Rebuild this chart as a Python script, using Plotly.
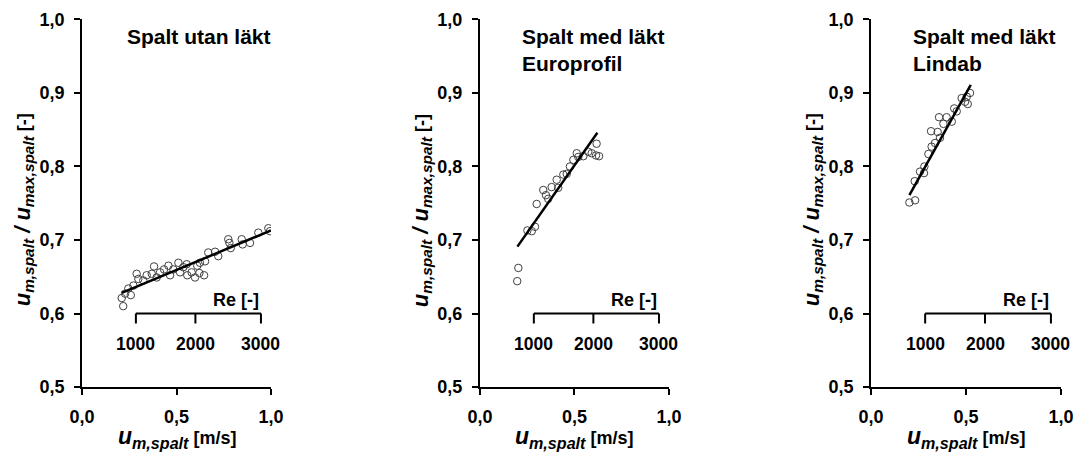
import plotly.graph_objects as go

# Spalt utan läkt
u_utan = [0.218, 0.210, 0.228, 0.245, 0.258, 0.272, 0.289, 0.298, 0.324, 0.342,
          0.369, 0.381, 0.395, 0.413, 0.434, 0.457, 0.466, 0.483, 0.510, 0.519,
          0.536, 0.554, 0.557, 0.580, 0.598, 0.610, 0.624, 0.621, 0.646, 0.651,
          0.668, 0.704, 0.721, 0.774, 0.780, 0.787, 0.845, 0.850, 0.889, 0.933,
          0.986, 0.995]
r_utan = [0.610, 0.621, 0.627, 0.634, 0.625, 0.638, 0.654, 0.647, 0.645, 0.652,
          0.654, 0.664, 0.649, 0.656, 0.660, 0.665, 0.652, 0.660, 0.669, 0.656,
          0.663, 0.667, 0.652, 0.656, 0.649, 0.665, 0.669, 0.655, 0.652, 0.671,
          0.683, 0.684, 0.678, 0.701, 0.696, 0.689, 0.701, 0.694, 0.696, 0.710,
          0.716, 0.712]
fit_utan_u = [0.21, 1.0]
fit_utan_r = [0.628, 0.713]

# Spalt med läkt, Europrofil
u_euro = [0.203, 0.197, 0.251, 0.274, 0.291, 0.300, 0.335, 0.349, 0.361, 0.379,
          0.406, 0.414, 0.441, 0.459, 0.476, 0.494, 0.512, 0.520, 0.547, 0.573,
          0.591, 0.617, 0.614, 0.630]
r_euro = [0.662, 0.644, 0.713, 0.712, 0.718, 0.749, 0.768, 0.761, 0.756, 0.772,
          0.782, 0.771, 0.789, 0.790, 0.800, 0.809, 0.818, 0.813, 0.814, 0.820,
          0.818, 0.831, 0.815, 0.814]
fit_euro_u = [0.198, 0.621]
fit_euro_r = [0.691, 0.846]

# Spalt med läkt, Lindab
u_lindab = [0.202, 0.232, 0.230, 0.258, 0.279, 0.281, 0.302, 0.319, 0.337, 0.316,
            0.351, 0.363, 0.358, 0.381, 0.398, 0.425, 0.438, 0.451, 0.477, 0.495,
            0.509, 0.521, 0.504]
r_lindab = [0.751, 0.754, 0.780, 0.793, 0.791, 0.800, 0.817, 0.827, 0.832, 0.848,
            0.847, 0.839, 0.867, 0.858, 0.867, 0.861, 0.879, 0.875, 0.893, 0.888,
            0.885, 0.900, 0.895]
fit_lindab_u = [0.202, 0.525]
fit_lindab_r = [0.761, 0.911]

titles = ["Spalt utan läkt", "Spalt med läkt<br>Europrofil", "Spalt med läkt<br>Lindab"]
title_x = [0.228, 0.21, 0.21]

x_ticks = [0.0, 0.5, 1.0]
y_ticks = [0.5, 0.6, 0.7, 0.8, 0.9, 1.0]

# Reynolds number scale drawn inside each panel
re_ticks = [1000, 2000, 3000]
re_tick_u = [0.285, 0.600, 0.947]
re_level = 0.6

FONT = "Liberation Sans, Arial, sans-serif"

panels = [
    (u_utan, r_utan, fit_utan_u, fit_utan_r),
    (u_euro, r_euro, fit_euro_u, fit_euro_r),
    (u_lindab, r_lindab, fit_lindab_u, fit_lindab_r),
]
x_domains = [[0.0764, 0.2523], [0.4469, 0.6229], [0.8110, 0.9879]]
y_domain = [0.1438, 0.9569]

fig = go.Figure()
annotations = []
shapes = []

for i, (u, r, fu, fr) in enumerate(panels):
    xa = 'x' if i == 0 else 'x%d' % (i + 1)
    ya = 'y' if i == 0 else 'y%d' % (i + 1)

    fig.add_trace(go.Scatter(x=u, y=r, mode='markers', xaxis=xa, yaxis=ya,
                             marker=dict(symbol='circle-open', size=7.5, color='#404040',
                                         line=dict(width=1, color='#404040')),
                             showlegend=False, hoverinfo='skip'))
    fig.add_trace(go.Scatter(x=fu, y=fr, mode='lines', xaxis=xa, yaxis=ya,
                             line=dict(color='black', width=2.5),
                             showlegend=False, hoverinfo='skip'))

    axis_style = dict(showline=True, linecolor='black', linewidth=2, showgrid=False,
                      zeroline=False, ticks='outside', ticklen=6, tickwidth=2,
                      tickcolor='black', tickformat='.1f', automargin=False,
                      tickfont=dict(family=FONT, size=18, color='black', weight='bold'))
    fig.layout['xaxis' if i == 0 else 'xaxis%d' % (i + 1)] = dict(
        axis_style, domain=x_domains[i], range=[0, 1], tickvals=x_ticks,
        anchor=ya, ticklabelstandoff=6)
    fig.layout['yaxis' if i == 0 else 'yaxis%d' % (i + 1)] = dict(
        axis_style, domain=y_domain, range=[0.5, 1.0], tickvals=y_ticks,
        anchor=xa, ticklabelstandoff=6)

    # Re axis
    shapes.append(dict(type='line', xref=xa, yref=ya, x0=re_tick_u[0], x1=re_tick_u[-1],
                       y0=re_level, y1=re_level, line=dict(color='black', width=2)))
    for t, tu in zip(re_ticks, re_tick_u):
        shapes.append(dict(type='line', xref=xa, yref=ya, x0=tu, x1=tu,
                           ysizemode='pixel', yanchor=re_level, y0=0, y1=-10,
                           line=dict(color='black', width=2)))
        annotations.append(dict(xref=xa, yref=ya, x=tu, y=re_level, yshift=-30,
                                text=str(t), showarrow=False, xanchor='center', yanchor='middle',
                                font=dict(family=FONT, size=17.5, color='black', weight='bold')))
    annotations.append(dict(xref=xa, yref=ya, x=re_tick_u[-1], y=re_level, yshift=14,
                            text='Re [-]', showarrow=False, xanchor='right', yanchor='middle',
                            font=dict(family=FONT, size=18, color='black', weight='bold')))

    # panel title
    annotations.append(dict(xref=xa + ' domain', yref=ya + ' domain', x=title_x[i], y=1,
                            yshift=-4, text=titles[i], showarrow=False, align='left',
                            xanchor='left', yanchor='top',
                            font=dict(family=FONT, size=21, color='black', weight='bold')))

    # axis titles
    annotations.append(dict(xref=xa + ' domain', yref=ya + ' domain', x=0.5, y=0, yshift=-50,
                            text="<i>u</i><sub><i>m,spalt</i></sub>"
                                 "<span style='font-size:18px'> [m/s]</span>",
                            showarrow=False, xanchor='center', yanchor='middle',
                            font=dict(family=FONT, size=23, color='black', weight='bold')))
    annotations.append(dict(xref=xa + ' domain', yref=ya + ' domain', x=0, y=0.5,
                            xshift=-58, yshift=-7, textangle=-90,
                            text="<i>u</i><sub><i>m,spalt</i></sub><i> / u</i>"
                                 "<sub><i>max,spalt</i></sub>"
                                 "<span style='font-size:18px'> [-]</span>",
                            showarrow=False, xanchor='center', yanchor='middle',
                            font=dict(family=FONT, size=22, color='black', weight='bold')))

fig.update_layout(
    width=1074, height=452,
    margin=dict(l=0, r=0, t=0, b=0),
    paper_bgcolor='white', plot_bgcolor='white',
    separators=',.',
    shapes=shapes,
    annotations=annotations,
)

# drop the default page margin so the figure fills the window exactly
fig.write_html("out.html", config={'displayModeBar': False},
               post_script="document.body.style.margin='0';")
